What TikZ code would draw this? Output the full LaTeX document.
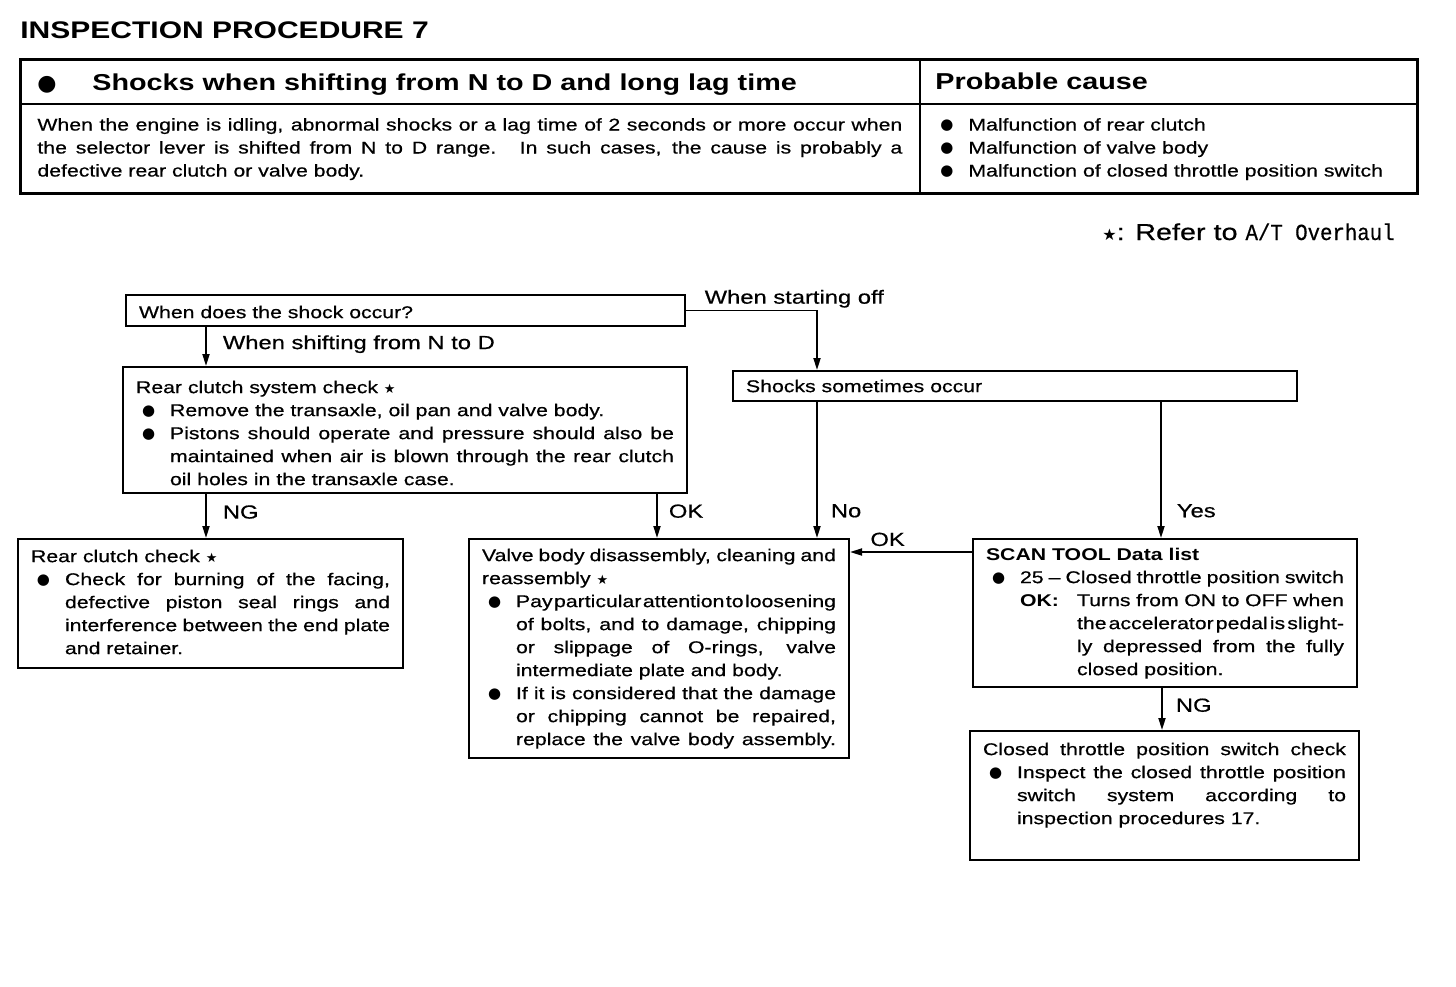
\documentclass[tikz,border=0pt]{standalone}
\usepackage{fontspec}
\setmainfont{Liberation Sans}[FakeStretch=1.25,UprightFeatures={FakeBold=0.6}]
\newfontfamily\symfont{DejaVu Sans}
\newfontfamily\monofont{Liberation Mono}[FakeStretch=0.9,FakeBold=0.5]
\usetikzlibrary{positioning,arrows.meta,calc}

% bullet indent and the indent after "OK:"
\newlength\bind \setlength\bind{17pt}
\newlength\okind \setlength\okind{45.5pt}
\newcommand\bul{\makebox[\bind][l]{\hspace{3pt}\raisebox{0.4pt}{\symfont\fontsize{7.5}{7.5}\selectfont ●}}}
\newcommand\refstar{{\symfont\fontsize{6.5}{6.5}\selectfont ★}}
\newcommand\fit[2]{\makebox[#1][s]{\spaceskip=0.15em plus 1fil minus 0.1em\relax#2}}
\newcommand\txtline[1]{\par\noindent\strut#1}
\newcommand\jline[1]{\par\noindent\strut\fit{\linewidth}{#1}}
\newcommand\bline[1]{\par\noindent\strut\bul#1}
\newcommand\bjline[1]{\par\noindent\strut\bul\fit{\dimexpr\linewidth-\bind\relax}{#1}}
\newcommand\iline[1]{\par\noindent\strut\hspace*{\bind}#1}
\newcommand\ijline[1]{\par\noindent\strut\hspace*{\bind}\fit{\dimexpr\linewidth-\bind\relax}{#1}}
\newcommand\kjline[1]{\par\noindent\strut\hspace*{\okind}\fit{\dimexpr\linewidth-\okind\relax}{#1}}
\newcommand\boxbody[4]{\parbox[t][#2][t]{#1}{\parskip=0pt\vspace*{#3}#4}}

\begin{document}
\begin{tikzpicture}[x=0.5pt,y=-0.5pt,
  stepbox/.style={draw,line width=1pt,anchor=north west,inner xsep=6.5pt,inner ysep=0pt,font=\fontsize{8.5}{11.5}\selectfont},
  lab/.style={inner sep=0pt,font=\fontsize{9.5}{11}\selectfont},
  arr/.style={-{Triangle[length=6pt,width=3.5pt]},line width=0.9pt}
]
\useasboundingbox (0,0) rectangle (1456,986);

% header table
\node[anchor=base west,inner sep=0pt,font=\bfseries\fontsize{12}{14}\selectfont] (title) at (20,38.5) {INSPECTION PROCEDURE 7};
\node[draw,line width=1.4pt,anchor=north west,inner sep=0pt,minimum width=698.5pt,minimum height=67pt] (hdr) at (19,58) {};
\draw[line width=1pt] ($(hdr.north west)+(0,46)$) -- ($(hdr.north east)+(0,46)$);
\draw[line width=1pt] ($(hdr.north west)+(901,0)$) -- ($(hdr.south west)+(901,0)$);
\node[anchor=base west,inner sep=0pt,font=\bfseries\fontsize{11.5}{14}\selectfont] (symptom) at (37,90) {\makebox[27.5pt][l]{\symfont\fontsize{11}{11}\selectfont ●}Shocks when shifting from N to D and long lag time};
\node[anchor=base west,inner sep=0pt,font=\bfseries\fontsize{11.5}{14}\selectfont] (cause) at (935,89) {Probable cause};
\node[anchor=north west,inner sep=0pt,font=\fontsize{8.5}{11.5}\selectfont] (desc) at (37,114) {\parbox[t]{432.5pt}{%
  \jline{When the engine is idling, abnormal shocks or a lag time of 2 seconds or more occur when}%
  \jline{the selector lever is shifted from N to D range. In such cases, the cause is probably a}%
  \txtline{defective rear clutch or valve body.}}};
\node[anchor=north west,inner sep=0pt,font=\fontsize{8.5}{11.5}\selectfont] (causes) at (934,114) {\parbox[t]{240pt}{%
  \bline{Malfunction of rear clutch}%
  \bline{Malfunction of valve body}%
  \bline{Malfunction of closed throttle position switch}}};
\node[anchor=base east,inner sep=0pt,font=\fontsize{11.5}{14}\selectfont] (note) at (1395,240) {{\symfont\fontsize{8}{8}\selectfont ★}: Refer to {\monofont A/T Overhaul}};

% flow boxes
\node[stepbox] (shock) at (125,294) {\boxbody{266.5pt}{15.5pt}{3.5pt}{\txtline{When does the shock occur?}}};
\node[stepbox] (rcsys) at (122,366) {\boxbody{269pt}{63pt}{5pt}{%
  \txtline{Rear clutch system check \refstar}%
  \bline{Remove the transaxle, oil pan and valve body.}%
  \bjline{Pistons should operate and pressure should also be}%
  \ijline{maintained when air is blown through the rear clutch}%
  \iline{oil holes in the transaxle case.}}};
\node[stepbox] (sometimes) at (732,370) {\boxbody{269pt}{15pt}{2.5pt}{\txtline{Shocks sometimes occur}}};
\node[stepbox] (rcchk) at (17,538) {\boxbody{179.5pt}{64.5pt}{3.5pt}{%
  \txtline{Rear clutch check \refstar}%
  \bjline{Check for burning of the facing,}%
  \ijline{defective piston seal rings and}%
  \ijline{interference between the end plate}%
  \iline{and retainer.}}};
\node[stepbox] (valve) at (468,538) {\boxbody{177pt}{109.5pt}{3pt}{%
  \jline{Valve body disassembly, cleaning and}%
  \txtline{reassembly \refstar}%
  \bjline{Pay particular attention to loosening}%
  \ijline{of bolts, and to damage, chipping}%
  \ijline{or slippage of O-rings, valve}%
  \iline{intermediate plate and body.}%
  \bjline{If it is considered that the damage}%
  \ijline{or chipping cannot be repaired,}%
  \ijline{replace the valve body assembly.}}};
\node[stepbox] (scan) at (972,538) {\boxbody{179pt}{74pt}{2.5pt}{%
  \txtline{\textbf{SCAN TOOL Data list}}%
  \bjline{25 -- Closed throttle position switch}%
  \par\noindent\strut\hspace*{\bind}\makebox[\dimexpr\okind-\bind\relax][l]{\textbf{OK:}}\fit{\dimexpr\linewidth-\okind\relax}{Turns from ON to OFF when}%
  \kjline{the accelerator pedal is slight-}%
  \kjline{ly depressed from the fully}%
  \par\noindent\strut\hspace*{\okind}closed position.}};
\node[stepbox] (ctps) at (969,730) {\boxbody{181.5pt}{64.5pt}{4pt}{%
  \jline{Closed throttle position switch check}%
  \bjline{Inspect the closed throttle position}%
  \ijline{switch system according to}%
  \iline{inspection procedures 17.}}};

% connectors
\coordinate (t1) at ($(shock.south west)+(81,0)$);
\coordinate (t2) at ($(rcsys.south west)+(84,0)$);
\coordinate (t3) at ($(rcsys.south west)+(535,0)$);
\coordinate (t4) at ($(sometimes.south west)+(85,0)$);
\coordinate (t5) at ($(sometimes.south west)+(429,0)$);
\coordinate (t6) at ($(sometimes.north west)+(85,0)$);
\coordinate (t7) at ($(scan.north west)+(0,14)$);
\coordinate (t8) at ($(scan.south west)+(190,0)$);

\draw[arr] (t1) -- node[lab,anchor=west,pos=0.44,xshift=8pt] (lshift) {When shifting from N to D} (t1 |- rcsys.north);
\draw[arr] (shock.east) -| node[lab,anchor=south west,pos=0.068,yshift=1pt] (lstart) {When starting off} (t6);
\draw[arr] (t2) -- node[lab,anchor=west,pos=0.41,xshift=8pt] (lng1) {NG} (t2 |- rcchk.north);
\draw[arr] (t3) -- node[lab,anchor=west,pos=0.39,xshift=5.5pt] (lok1) {OK} (t3 |- valve.north);
\draw[arr] (t4) -- node[lab,anchor=west,pos=0.8,xshift=6.5pt] (lno) {No} (t4 |- valve.north);
\draw[arr] (t5) -- node[lab,anchor=west,pos=0.8,xshift=7.5pt] (lyes) {Yes} (t5 |- scan.north);
\draw[arr] (t7) -- node[lab,anchor=south west,pos=0.84,yshift=2.5pt] (lok2) {OK} (t7 -| valve.east);
\draw[arr] (t8) -- node[lab,anchor=west,pos=0.41,xshift=6.5pt] (lng2) {NG} (t8 |- ctps.north);
\end{tikzpicture}
\end{document}
